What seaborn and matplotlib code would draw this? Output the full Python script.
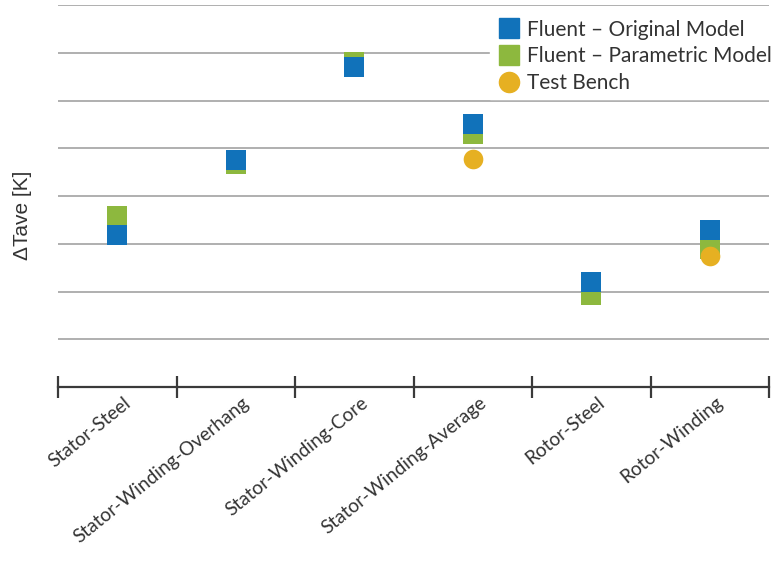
import numpy as np
import pandas as pd
import matplotlib
matplotlib.use("Agg")
import matplotlib.pyplot as plt
import matplotlib.transforms as mtrans
from matplotlib.lines import Line2D
import seaborn as sns

# data (y in K, axis has no numbers)
categories = ["Stator-Steel", "Stator-Winding-Overhang", "Stator-Winding-Core",
              "Stator-Winding-Average", "Rotor-Steel", "Rotor-Winding"]
original = [31.9, 47.6, 67.1, 55.0, 21.9, 32.8]
parametric = [35.9, 46.6, 68.0, 52.9, 19.2, 28.8]
bench_cats = ["Stator-Winding-Average", "Rotor-Winding"]
bench = [47.8, 27.4]

c_blue = "#1172ba"
c_green = "#8db83e"
c_orange = "#e6b022"
txt = "#333333"

sns.set_style("white")
plt.rcParams["font.family"] = ["Lato", "DejaVu Sans"]

df = pd.DataFrame({"cat": categories, "orig": original, "param": parametric})
dfb = pd.DataFrame({"cat": bench_cats, "val": bench})

fig = plt.figure(figsize=(7.81, 5.63), dpi=100)
ax = fig.add_axes([58 / 781, 1 - 387 / 563, 711 / 781, 382 / 563])

# draw order: green, blue, then test bench on top
sns.scatterplot(data=df, x="cat", y="param", marker="s", s=190, color=c_green,
                linewidth=0, ax=ax, zorder=3)
sns.scatterplot(data=df, x="cat", y="orig", marker="s", s=190, color=c_blue,
                linewidth=0, ax=ax, zorder=4)
sns.scatterplot(data=dfb, x="cat", y="val", marker="o", s=200, color=c_orange,
                linewidth=0, ax=ax, zorder=5)

ax.set_xlim(-0.5, len(categories) - 0.5)
ax.set_ylim(0, 80)
ax.set_yticks(np.arange(10, 81, 10))
ax.yaxis.grid(True, color="#9a9a9a", linewidth=1.1)
ax.tick_params(axis="y", left=False, labelleft=False)

# category boundaries as ticks, labels at centres
ax.set_xticks(np.arange(-0.5, len(categories)), labels=[])
ax.set_xticks(np.arange(len(categories)), labels=categories, minor=True)
ax.tick_params(axis="x", which="major", bottom=True, direction="inout",
               length=16, width=1.6, color="#3a3a3a")
ax.tick_params(axis="x", which="minor", bottom=True, length=0, pad=5,
               labelsize=13.8, labelcolor=txt)
shift = mtrans.ScaledTranslation(6 / 100, 0, fig.dpi_scale_trans)
for lab in ax.get_xticklabels(minor=True):
    lab.set_rotation(39)
    lab.set_ha("right")
    lab.set_rotation_mode("anchor")
    lab.set_transform(lab.get_transform() + shift)

for side in ["top", "right", "left"]:
    ax.spines[side].set_visible(False)
ax.spines["bottom"].set_color("#3a3a3a")
ax.spines["bottom"].set_linewidth(1.6)

ax.set_xlabel("")
ax.set_ylabel("ΔTave [K]", fontsize=15, color=txt,
              family=["Liberation Sans", "DejaVu Sans"])
ax.yaxis.set_label_coords(-0.036, 0.45)

handles = [
    Line2D([], [], marker="s", linestyle="", color=c_blue, markersize=14),
    Line2D([], [], marker="s", linestyle="", color=c_green, markersize=14),
    Line2D([], [], marker="o", linestyle="", color=c_orange, markersize=14.5),
]
labels = ["Fluent – Original Model", "Fluent – Parametric Model", "Test Bench"]
leg = ax.legend(handles, labels, loc="upper right", bbox_to_anchor=(1.028, 1.005),
                frameon=True, fancybox=False, framealpha=1, edgecolor="white",
                fontsize=15, labelspacing=0.32, handletextpad=0.3,
                handlelength=1.2, borderpad=0.3)
for t in leg.get_texts():
    t.set_color(txt)

fig.savefig("out.png", dpi=100)
